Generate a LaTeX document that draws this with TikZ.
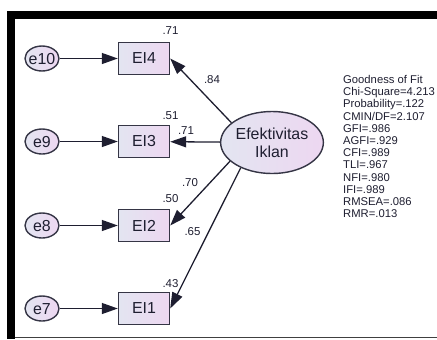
\documentclass[tikz,border=0pt]{standalone}
\usepackage{fontspec}
\setmainfont{Liberation Sans}
\usetikzlibrary{shapes.geometric,arrows.meta}
\definecolor{fillL}{HTML}{E3E5F1}
\definecolor{fillR}{HTML}{EDD7F1}
\definecolor{ink}{HTML}{1E1E30}
\newcommand{\ctext}[1]{\makebox[0pt]{\raisebox{-0.36em}[0pt][0pt]{#1}}}
\begin{document}
\begin{tikzpicture}[x=1bp,y=-1bp,
  base/.style={draw=ink!90, line width=1.4bp, left color=fillL, right color=fillR, text=ink, font=\fontsize{16}{18}\selectfont, inner sep=0pt},
  errnode/.style={base, ellipse, minimum width=34bp, minimum height=25bp},
  obsnode/.style={base, rectangle, minimum width=51bp, minimum height=32bp},
  latnode/.style={base, ellipse, minimum width=102bp, minimum height=62bp, align=center},
  conn/.style={line width=1.3bp, draw=ink, -{Triangle[length=16bp,width=11bp]}},
  lbl/.style={font=\fontsize{11.5}{12}\selectfont, text=ink, inner sep=0pt}]
\useasboundingbox (0,0) rectangle (437,339);
% frame
\fill (7,11) rectangle (15,339);
\fill (7,11) rectangle (437,19);
\draw[black!75, line width=1bp] (15,337) -- (437,337);
% error nodes
\node[errnode] (e10) at (42,58.5) {\ctext{e10}};
\node[errnode] (e9) at (42,141.5) {\ctext{e9}};
\node[errnode] (e8) at (42,225.5) {\ctext{e8}};
\node[errnode] (e7) at (42,308.5) {\ctext{e7}};
% observed
\node[obsnode] (EI4) at (144,58.5) {EI4};
\node[obsnode] (EI3) at (144,141.5) {EI3};
\node[obsnode] (EI2) at (144,225.5) {EI2};
\node[obsnode] (EI1) at (144,308.5) {EI1};
% latent
\node[latnode] (lat) at (272,142.5) {Efektivitas\\Iklan};
% connectors
\draw[conn] (e10) -- (EI4);
\draw[conn] (e9) -- (EI3);
\draw[conn] (e8) -- (EI2);
\draw[conn] (e7) -- (EI1);
\draw[conn] (lat.154) -- (EI4.east);
\draw[conn] (lat) -- (EI3);
\draw[conn] (lat.204.5) -- (EI2.east);
\draw[conn] (lat.219.6) -- (EI1.east);
% squared multiple correlations
\node[lbl] (r4) at (170.5,31) {.71};
\node[lbl] (r3) at (170.5,115.5) {.51};
\node[lbl] (r2) at (170.5,199) {.50};
\node[lbl] (r1) at (170.5,284) {.43};
% loadings
\node[lbl] (l4) at (212,80) {.84};
\node[lbl] (l3) at (186,131) {.71};
\node[lbl] (l2) at (190,183) {.70};
\node[lbl] (l1) at (192.5,232) {.65};
% fit
\node[anchor=north west, align=left, inner sep=0pt, text=ink, font=\fontsize{11.3}{12.27}\selectfont] (fit) at (343,75)
 {Goodness of Fit\\Chi-Square=4.213\\Probability=.122\\CMIN/DF=2.107\\GFI=.986\\AGFI=.929\\CFI=.989\\TLI=.967\\NFI=.980\\IFI=.989\\RMSEA=.086\\RMR=.013};
\end{tikzpicture}
\end{document}
